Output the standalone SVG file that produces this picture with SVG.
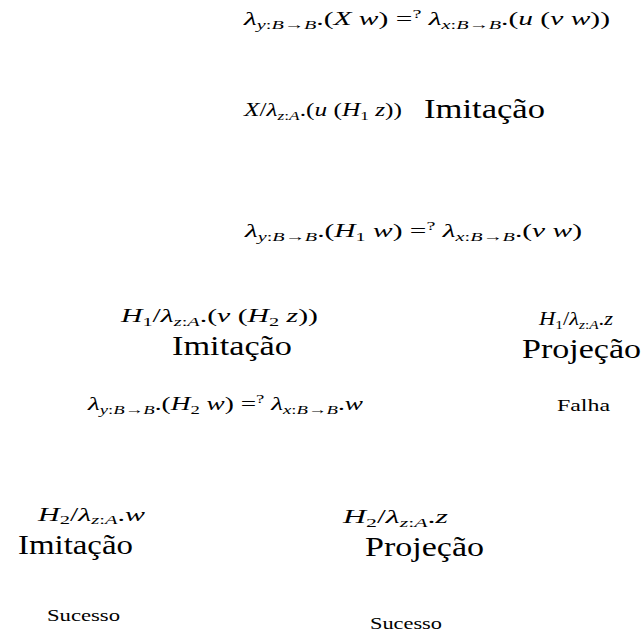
<svg xmlns="http://www.w3.org/2000/svg" width="642" height="639" viewBox="0 0 642 639">
<style>
text{fill:#000}
.m{font-size:19px}
.i{font-style:italic}
.s{font-size:13px}
.sup{font-size:13px}
.big{font-size:28px}
.lab{font-size:16px}
</style>
<rect width="642" height="642" fill="#fff"/>
<g id="connectors"></g>
<g font-family="'Liberation Serif', 'Times New Roman', 'DejaVu Serif', serif">
<g id="n1"><text class="m" x="244" y="25" textLength="366" lengthAdjust="spacingAndGlyphs"><tspan class="i">λ</tspan><tspan class="s i" dy="4">y</tspan><tspan class="s">:</tspan><tspan class="s i">B</tspan><tspan class="s">→</tspan><tspan class="s i">B</tspan><tspan dy="-4">.(</tspan><tspan class="i">X w</tspan>) =<tspan class="sup" dy="-7">?</tspan><tspan dy="7"> </tspan><tspan class="i">λ</tspan><tspan class="s i" dy="4">x</tspan><tspan class="s">:</tspan><tspan class="s i">B</tspan><tspan class="s">→</tspan><tspan class="s i">B</tspan><tspan dy="-4">.(</tspan><tspan class="i">u</tspan> (<tspan class="i">v w</tspan>))</text></g>
<g id="n2"><text class="m" x="244" y="116" textLength="158" lengthAdjust="spacingAndGlyphs"><tspan class="i">X</tspan>/<tspan class="i">λ</tspan><tspan class="s i" dy="4">z</tspan><tspan class="s">:</tspan><tspan class="s i">A</tspan><tspan dy="-4">.(</tspan><tspan class="i">u</tspan> (<tspan class="i">H</tspan><tspan class="s" dy="4">1</tspan><tspan dy="-4"> </tspan><tspan class="i">z</tspan>))</text><text class="big" x="424" y="118" textLength="121" lengthAdjust="spacingAndGlyphs">Imitação</text></g>
<g id="n3"><text class="m" x="245" y="237" textLength="337" lengthAdjust="spacingAndGlyphs"><tspan class="i">λ</tspan><tspan class="s i" dy="4">y</tspan><tspan class="s">:</tspan><tspan class="s i">B</tspan><tspan class="s">→</tspan><tspan class="s i">B</tspan><tspan dy="-4">.(</tspan><tspan class="i">H</tspan><tspan class="s" dy="4">1</tspan><tspan dy="-4"> </tspan><tspan class="i">w</tspan>) =<tspan class="sup" dy="-7">?</tspan><tspan dy="7"> </tspan><tspan class="i">λ</tspan><tspan class="s i" dy="4">x</tspan><tspan class="s">:</tspan><tspan class="s i">B</tspan><tspan class="s">→</tspan><tspan class="s i">B</tspan><tspan dy="-4">.(</tspan><tspan class="i">v w</tspan>)</text></g>
<g id="n4"><text class="m" x="121" y="322" textLength="197" lengthAdjust="spacingAndGlyphs"><tspan class="i">H</tspan><tspan class="s" dy="4">1</tspan><tspan dy="-4">/</tspan><tspan class="i">λ</tspan><tspan class="s i" dy="4">z</tspan><tspan class="s">:</tspan><tspan class="s i">A</tspan><tspan dy="-4">.(</tspan><tspan class="i">v</tspan> (<tspan class="i">H</tspan><tspan class="s" dy="4">2</tspan><tspan dy="-4"> </tspan><tspan class="i">z</tspan>))</text><text class="big" x="172" y="355" textLength="120" lengthAdjust="spacingAndGlyphs">Imitação</text></g>
<g id="n5"><text class="m" x="539" y="325" textLength="74" lengthAdjust="spacingAndGlyphs"><tspan class="i">H</tspan><tspan class="s" dy="4">1</tspan><tspan dy="-4">/</tspan><tspan class="i">λ</tspan><tspan class="s i" dy="4">z</tspan><tspan class="s">:</tspan><tspan class="s i">A</tspan><tspan dy="-4">.</tspan><tspan class="i">z</tspan></text><text class="big" x="522" y="358" textLength="119" lengthAdjust="spacingAndGlyphs">Projeção</text></g>
<g id="n6"><text class="lab" x="557" y="411" textLength="53" lengthAdjust="spacingAndGlyphs">Falha</text></g>
<g id="n7"><text class="m" x="88" y="410" textLength="275" lengthAdjust="spacingAndGlyphs"><tspan class="i">λ</tspan><tspan class="s i" dy="4">y</tspan><tspan class="s">:</tspan><tspan class="s i">B</tspan><tspan class="s">→</tspan><tspan class="s i">B</tspan><tspan dy="-4">.(</tspan><tspan class="i">H</tspan><tspan class="s" dy="4">2</tspan><tspan dy="-4"> </tspan><tspan class="i">w</tspan>) =<tspan class="sup" dy="-7">?</tspan><tspan dy="7"> </tspan><tspan class="i">λ</tspan><tspan class="s i" dy="4">x</tspan><tspan class="s">:</tspan><tspan class="s i">B</tspan><tspan class="s">→</tspan><tspan class="s i">B</tspan><tspan dy="-4">.</tspan><tspan class="i">w</tspan></text></g>
<g id="n8"><text class="m" x="38" y="521" textLength="107" lengthAdjust="spacingAndGlyphs"><tspan class="i">H</tspan><tspan class="s" dy="3">2</tspan><tspan dy="-3">/</tspan><tspan class="i">λ</tspan><tspan class="s i" dy="3">z</tspan><tspan class="s">:</tspan><tspan class="s i">A</tspan><tspan dy="-3">.</tspan><tspan class="i">w</tspan></text><text class="big" x="18" y="554" textLength="115" lengthAdjust="spacingAndGlyphs">Imitação</text></g>
<g id="n9"><text class="m" x="343" y="523" textLength="105" lengthAdjust="spacingAndGlyphs"><tspan class="i">H</tspan><tspan class="s" dy="4">2</tspan><tspan dy="-4">/</tspan><tspan class="i">λ</tspan><tspan class="s i" dy="4">z</tspan><tspan class="s">:</tspan><tspan class="s i">A</tspan><tspan dy="-4">.</tspan><tspan class="i">z</tspan></text><text class="big" x="365" y="556" textLength="119" lengthAdjust="spacingAndGlyphs">Projeção</text></g>
<g id="n10"><text class="lab" x="47" y="621" textLength="73" lengthAdjust="spacingAndGlyphs">Sucesso</text></g>
<g id="n11"><text class="lab" x="370" y="629" textLength="72" lengthAdjust="spacingAndGlyphs">Sucesso</text></g>
</g>
</svg>
